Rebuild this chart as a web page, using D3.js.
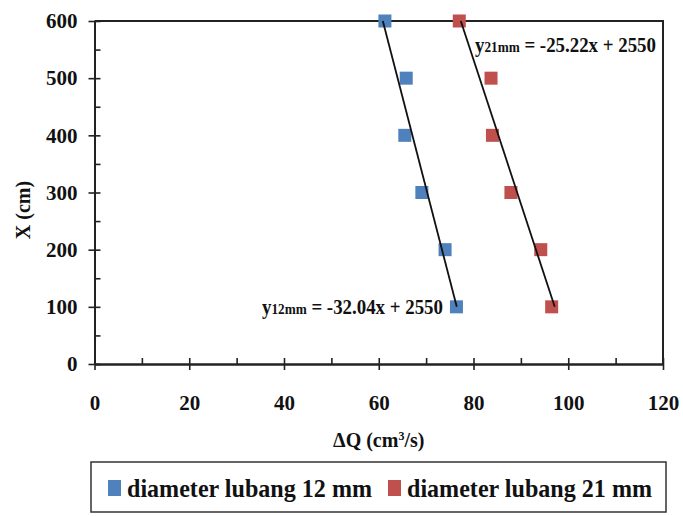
<!DOCTYPE html>
<html>
<head>
<meta charset="utf-8">
<script src="https://cdn.jsdelivr.net/npm/d3@7"></script>
<style>
	body { margin: 0; background: #fff; }
</style>
</head>
<body>
<div id="chart"></div>
<script>
// data
// ----------------------------------------
var heights = [600, 500, 400, 300, 200, 100];
var dq12 = [61.3, 65.8, 65.5, 69.1, 74.0, 76.4];
var dq21 = [77.0, 83.7, 84.0, 87.9, 94.2, 96.5];
var slopes = [-32.04, -25.22];
var intercept = 2550;
var seriesNames = ["diameter lubang 12 mm", "diameter lubang 21 mm"];
var eqSub = ["12mm", "21mm"];
var eqText = ["= -32.04x + 2550", "= -25.22x + 2550"];
var xTicks = [0, 20, 40, 60, 80, 100, 120];
var xMinor = [10, 30, 50, 70, 90, 110];
var yTicks = [0, 100, 200, 300, 400, 500, 600];
var yMinor = [50, 150, 250, 350, 450, 550];
var colors = ["#4F81BD", "#C0504D"];

var width = 683, height = 516;
var margin = {top: 21, right: 20, bottom: 152, left: 94.5};
var pw = 663 - margin.left, ph = 364 - margin.top;

// pick a serif (or narrow) face that is really installed
function hasFont(f){
	var c = document.createElement("canvas").getContext("2d");
	var s = "mmmwwwiiilll 0123456789";
	c.font = "bold 30px monospace";
	var a = c.measureText(s).width;
	c.font = "bold 30px '" + f + "', monospace";
	return c.measureText(s).width !== a;
}
var fontList = ["Liberation Serif", "Times New Roman", "DejaVu Serif", "Tinos", "Liberation Sans Narrow", "DejaVu Sans Condensed"];
var serif = "'" + (fontList.filter(hasFont)[0] || "Liberation Sans") + "', serif";

var svg = d3.select("#chart").append("svg")
	.attr("width", width)
	.attr("height", height)
	.attr("font-family", serif)
	.attr("font-weight", "bold");

var plot = svg.append("g")
	.attr("transform", "translate(" + margin.left + "," + margin.top + ")");

var x = d3.scaleLinear().domain([0, 120]).range([0, pw]);
var y = d3.scaleLinear().domain([0, 600]).range([ph, 0]);

// frame (top + right)
plot.append("path")
	.attr("d", "M0,0H" + pw + "V" + ph)
	.attr("fill", "none")
	.attr("stroke", "#222")
	.attr("stroke-width", 2);

// y axis
plot.append("g")
	.call(d3.axisLeft(y).tickValues(yTicks).tickSize(6).tickSizeOuter(0).tickPadding(11));
plot.append("g")
	.call(d3.axisLeft(y).tickValues(yTicks.concat(yMinor)).tickSize(-6).tickSizeOuter(0).tickFormat(""));

// x axis
plot.append("g")
	.attr("transform", "translate(0," + ph + ")")
	.call(d3.axisBottom(x).tickValues(xTicks).tickSize(6).tickSizeOuter(0).tickPadding(25));
plot.append("g")
	.attr("transform", "translate(0," + ph + ")")
	.call(d3.axisBottom(x).tickValues(xTicks.concat(xMinor)).tickSize(-6).tickSizeOuter(0).tickFormat(""));

plot.selectAll("g").attr("font-family", serif);
plot.selectAll(".domain").attr("stroke", "#222").attr("stroke-width", 2);
plot.selectAll(".tick line").attr("stroke", "#222").attr("stroke-width", 1.6);
plot.selectAll(".tick text").attr("font-size", 21).attr("fill", "#111");

// axis titles
svg.append("text")
	.attr("transform", "translate(30,210) rotate(-90)")
	.attr("text-anchor", "middle")
	.attr("font-size", 20)
	.attr("fill", "#111")
	.text("X (cm)");

var xt = svg.append("text")
	.attr("x", margin.left + pw / 2)
	.attr("y", 447)
	.attr("text-anchor", "middle")
	.attr("font-size", 20)
	.attr("fill", "#111");
xt.append("tspan").text("ΔQ (cm");
xt.append("tspan").attr("font-size", 12).attr("dy", -7).text("3");
xt.append("tspan").attr("dy", 7).text("/s)");

// markers
[dq12, dq21].forEach(function(s, i){
	plot.selectAll(".pt" + i)
		.data(s)
		.enter().append("rect")
		.attr("x", function(d){ return x(d) - 6.5; })
		.attr("y", function(d, j){ return y(heights[j]) - 6.5; })
		.attr("width", 13)
		.attr("height", 13)
		.attr("fill", colors[i]);
});

// trend lines, from X=600 down to X=100
slopes.forEach(function(m){
	plot.append("line")
		.attr("x1", x((600 - intercept) / m)).attr("y1", y(600))
		.attr("x2", x((100 - intercept) / m)).attr("y2", y(100))
		.attr("stroke", "#111")
		.attr("stroke-width", 1.8);
});

// equations
var eqPos = [[262, 314, 181], [475, 52, 181]];
eqPos.forEach(function(p, i){
	var t = svg.append("text").attr("x", p[0]).attr("y", p[1]).attr("font-size", 20).attr("fill", "#111")
		.attr("textLength", p[2]).attr("lengthAdjust", "spacingAndGlyphs");
	t.append("tspan").text("y");
	t.append("tspan").attr("font-size", 14).text(eqSub[i]);
	t.append("tspan").text(" " + eqText[i]);
});

// legend
var lg = svg.append("g");
lg.append("rect")
	.attr("x", 91).attr("y", 462)
	.attr("width", 575).attr("height", 50)
	.attr("fill", "#fff")
	.attr("stroke", "#333")
	.attr("stroke-width", 1.5);
var lx = [108, 388];
seriesNames.forEach(function(n, i){
	lg.append("rect")
		.attr("x", lx[i]).attr("y", 480)
		.attr("width", 13).attr("height", 16)
		.attr("fill", colors[i]);
	lg.append("text")
		.attr("x", lx[i] + 19)
		.attr("y", 497)
		.attr("font-size", 25)
		.attr("fill", "#111")
		.attr("textLength", 245)
		.attr("lengthAdjust", "spacingAndGlyphs")
		.text(n);
});
</script>
</body>
</html>
